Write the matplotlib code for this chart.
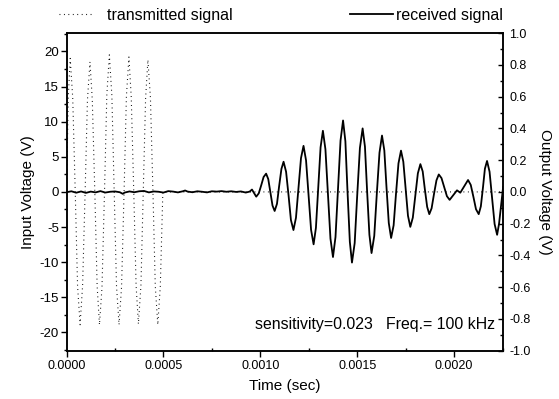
import numpy as np
import matplotlib
matplotlib.use("Agg")
import matplotlib.pyplot as plt
from matplotlib.ticker import MultipleLocator, FormatStrFormatter

plt.rcParams['font.family'] = ['Liberation Sans', 'DejaVu Sans']
plt.rcParams['axes.unicode_minus'] = False

# transmitted signal (input, V) - time in microseconds
tx_time_us = [0, 9, 19, 32, 45, 57, 70, 83, 96, 108, 121, 133, 146, 158, 170,
              183, 196, 208, 221, 234, 246, 258, 271, 284, 297, 309, 322, 334,
              347, 359, 371, 384, 396, 408, 420, 433, 446, 458, 471, 484, 497, 2250]
tx_volt = [0, 13.4, 19.0, 13.4, 0, -13.4, -18.9, -13.3, 0, 13.1, 18.5, 13.1, 0,
           -13.4, -18.9, -13.6, 0, 13.8, 19.5, 13.7, 0, -13.4, -18.9, -13.5, 0,
           13.6, 19.2, 13.5, 0, -13.3, -18.8, -13.3, 0, 13.3, 18.8, 13.4, 0,
           -13.4, -18.9, -13.4, 0, 0]

# received signal (output, V) - time in microseconds
rx_time_us = [0, 25, 50, 75, 100, 125, 150, 175, 200, 225, 250, 275, 290, 300,
              325, 350, 375, 400, 425, 450, 475, 500, 525, 550, 575, 600, 612,
              625, 650, 675, 700, 725, 750, 775, 800, 825, 850, 875, 900, 925, 945,
              957, 979, 992, 1005, 1017, 1030, 1041, 1052, 1063, 1074, 1086, 1097,
              1109, 1120, 1133, 1146, 1158, 1171, 1184, 1197, 1210, 1223, 1236,
              1249, 1262, 1275, 1287, 1299, 1311, 1323, 1336, 1349, 1362, 1375,
              1388, 1401, 1414, 1427, 1439, 1450, 1462, 1473, 1487, 1500, 1514,
              1528, 1540, 1551, 1563, 1574, 1588, 1601, 1615, 1628, 1640, 1651,
              1663, 1675, 1688, 1700, 1713, 1726, 1738, 1750, 1762, 1774, 1787,
              1800, 1813, 1826, 1838, 1849, 1861, 1872, 1884, 1896, 1909, 1921,
              1935, 1949, 1963, 1977, 1996, 2015, 2032, 2052, 2072, 2086, 2100,
              2113, 2127, 2138, 2149, 2159, 2170, 2183, 2196, 2209, 2222, 2232,
              2243, 2253]
rx_volt = [-0.002, 0.004, -0.005, 0.003, -0.006, 0.002, -0.003, 0.005, -0.004,
           0.001, 0.003, -0.002, -0.012, -0.004, 0.003, -0.002, 0.004, 0.006,
           -0.003, 0.003, 0.001, -0.004, 0.005, 0.002, -0.003, 0.004, 0.009,
           0.002, -0.002, 0.004, 0.001, -0.003, 0.004, 0.002, 0.005, 0.001,
           0.004, 0.0, 0.003, -0.004, 0.002,
           0.015, -0.03, -0.009, 0.043, 0.094, 0.115, 0.081, -0.003, -0.086,
           -0.12, -0.075, 0.035, 0.145, 0.19, 0.127, -0.025, -0.177, -0.24,
           -0.163, 0.025, 0.213, 0.29, 0.199, -0.02, -0.239, -0.33, -0.226,
           0.028, 0.281, 0.385, 0.269, -0.013, -0.294, -0.41, -0.284, 0.02,
           0.324, 0.45, 0.319, 0.003, -0.314, -0.445, -0.322, -0.023, 0.277,
           0.40, 0.285, 0.008, -0.27, -0.385, -0.277, -0.015, 0.247, 0.355,
           0.261, 0.033, -0.196, -0.29, -0.21, -0.015, 0.18, 0.26, 0.19, 0.02,
           -0.15, -0.22, -0.162, -0.023, 0.117, 0.175, 0.129, 0.018, -0.094,
           -0.14, -0.103, -0.015, 0.073, 0.11, 0.087, 0.03, -0.027, -0.05,
           -0.02, 0.01, -0.005, 0.035, 0.075, 0.044, -0.033, -0.109, -0.14,
           -0.091, 0.028, 0.146, 0.195, 0.127, -0.038, -0.202, -0.27, -0.2,
           -0.08, 0.03]

tx_time = np.array(tx_time_us) * 1e-6
rx_time = np.array(rx_time_us) * 1e-6

fig = plt.figure(figsize=(5.59, 3.99), dpi=100)
ax = fig.add_axes([0.119, 0.121, 0.780, 0.796])
ax2 = ax.twinx()

l1, = ax.plot(tx_time, tx_volt, color='black', lw=0.8, linestyle=(0, (0.8, 3.2)),
              label='transmitted signal')
l2, = ax2.plot(rx_time, rx_volt, color='black', lw=1.3, label='received signal')

ax.set_xlim(0, 0.00225)
ax.set_ylim(-22.6, 22.6)
ax2.set_ylim(-1.0, 1.0)

ax.xaxis.set_major_locator(MultipleLocator(0.0005))
ax.xaxis.set_minor_locator(MultipleLocator(0.00025))
ax.xaxis.set_major_formatter(FormatStrFormatter('%.4f'))
ax.yaxis.set_major_locator(MultipleLocator(5))
ax.yaxis.set_minor_locator(MultipleLocator(2.5))
ax2.yaxis.set_major_locator(MultipleLocator(0.2))
ax2.yaxis.set_minor_locator(MultipleLocator(0.1))
ax2.yaxis.set_major_formatter(FormatStrFormatter('%.1f'))

ax.tick_params(axis='x', which='major', direction='out', length=4, width=1, labelsize=9, pad=3, top=False)
ax.tick_params(axis='x', which='minor', direction='in', length=2.5, width=1, top=False)
ax.tick_params(axis='y', which='major', direction='out', length=4, width=1, labelsize=9.5, pad=1.5)
ax.tick_params(axis='y', which='minor', direction='out', length=2.5, width=1)
ax2.tick_params(axis='y', which='major', direction='in', length=3.5, width=1, labelsize=9, pad=5)
ax2.tick_params(axis='y', which='minor', direction='in', length=2, width=1)

for a in (ax, ax2):
    for s in a.spines.values():
        s.set_linewidth(1.1)

ax.set_xlabel('Time (sec)', fontsize=11, labelpad=5)
ax.set_ylabel('Input Voltage (V)', fontsize=11, labelpad=3)
ax2.set_ylabel('Output Voltage (V)', fontsize=11, rotation=-90, labelpad=15)

ax.text(0.982, 0.081, 'sensitivity=0.023   Freq.= 100 kHz', transform=ax.transAxes,
        ha='right', va='center', fontsize=11.4)

fig.legend(handles=[l1], loc='center left', bbox_to_anchor=(0.105, 0.962),
           frameon=False, fontsize=11.5, handlelength=2.0, handletextpad=1.0,
           borderpad=0, borderaxespad=0)
fig.legend(handles=[l2], loc='center right', bbox_to_anchor=(0.9, 0.962),
           frameon=False, fontsize=11.5, handlelength=2.7, handletextpad=0.2,
           borderpad=0, borderaxespad=0)

fig.savefig('out.png', dpi=100)
